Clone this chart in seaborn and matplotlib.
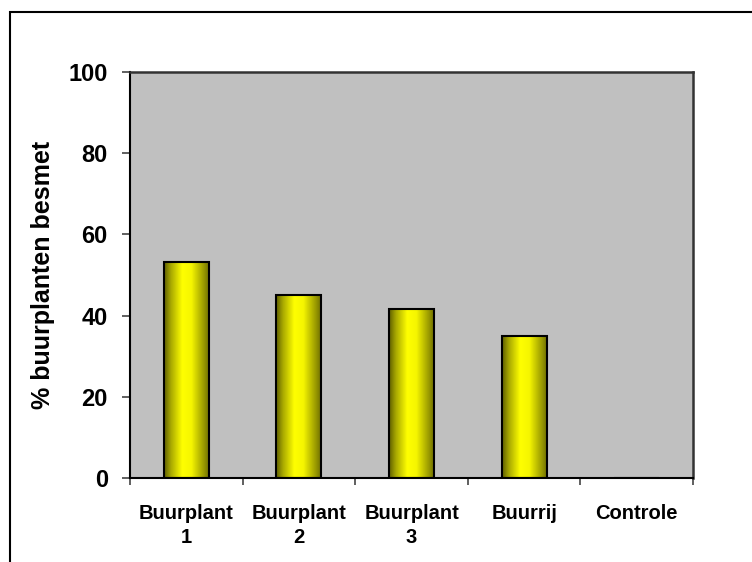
import numpy as np
import pandas as pd
import seaborn as sns
import matplotlib.pyplot as plt
from matplotlib.colors import LinearSegmentedColormap
from matplotlib.patches import Rectangle

# values
categories = ['Buurplant\n1', 'Buurplant\n2', 'Buurplant\n3', 'Buurrij', 'Controle']
besmet = [53.3, 45.0, 41.7, 35.0, 0.0]
yticks = [0, 20, 40, 60, 80, 100]

df = pd.DataFrame({'groep': categories, 'besmet': besmet})

sns.set_style('white')
plt.rcParams['font.family'] = ['Liberation Sans', 'DejaVu Sans']
plt.rcParams['font.weight'] = 'bold'
plt.rcParams['text.color'] = 'black'
plt.rcParams['axes.labelcolor'] = 'black'
plt.rcParams['xtick.labelcolor'] = 'black'
plt.rcParams['ytick.labelcolor'] = 'black'

fig = plt.figure(figsize=(7.52, 5.62), dpi=100)
ax = fig.add_axes([130 / 752, 1 - 478 / 562, 563 / 752, 406 / 562])
ax.set_facecolor('#c0c0c0')

sns.barplot(data=df, x='groep', y='besmet', width=0.4, color='#ffff00',
            edgecolor='black', linewidth=1.5, ax=ax, zorder=2)

# cylinder-like shading of each bar
shade = LinearSegmentedColormap.from_list(
    'shade', [(0.0, '#5e5e00'), (0.15, '#a8a800'), (0.4, '#ffff00'),
              (0.6, '#f5f500'), (0.85, '#a0a000'), (1.0, '#6a6a00')])
grad = np.linspace(0, 1, 256).reshape(1, -1)
for p in ax.patches:
    h = p.get_height()
    if h <= 0:
        continue
    x0, w = p.get_x(), p.get_width()
    im = ax.imshow(grad, cmap=shade, aspect='auto', extent=(x0, x0 + w, 0, h),
                   zorder=2.5, interpolation='bilinear')
    im.set_clip_path(p)
    p.set_facecolor('none')
    p.set_zorder(3)

ax.set_xlim(-0.5, len(categories) - 0.5)
ax.set_ylim(0, 100)
ax.set_yticks(yticks)
ax.set_xticks(range(len(categories)))
ax.set_xticklabels(categories, fontsize=14.5, fontweight='bold', linespacing=1.3)
ax.set_xticks(np.arange(-0.5, len(categories)), minor=True)
ax.tick_params(axis='x', which='major', length=0, pad=19)
ax.tick_params(axis='x', which='minor', length=5, width=1.2, color='#444444', bottom=True)
ax.tick_params(axis='y', length=6, width=1.2, color='#444444', labelsize=17, pad=10, left=True)
for t in ax.get_yticklabels():
    t.set_fontweight('bold')

ax.set_xlabel('')
ax.set_ylabel('% buurplanten besmet', fontsize=18, fontweight='bold', labelpad=10)

for s in ['left', 'bottom']:
    ax.spines[s].set_color('black')
    ax.spines[s].set_linewidth(1.5)
for s in ['top', 'right']:
    ax.spines[s].set_color('#333333')
    ax.spines[s].set_linewidth(1.8)

# outer chart border (partly cut off at right and bottom)
fig.patches.append(Rectangle((10 / 752, -0.2), 1.3, 0.2 + 1 - 12 / 562,
                             transform=fig.transFigure, fill=False,
                             edgecolor='black', linewidth=1.5))

fig.savefig('out.png', dpi=100)
